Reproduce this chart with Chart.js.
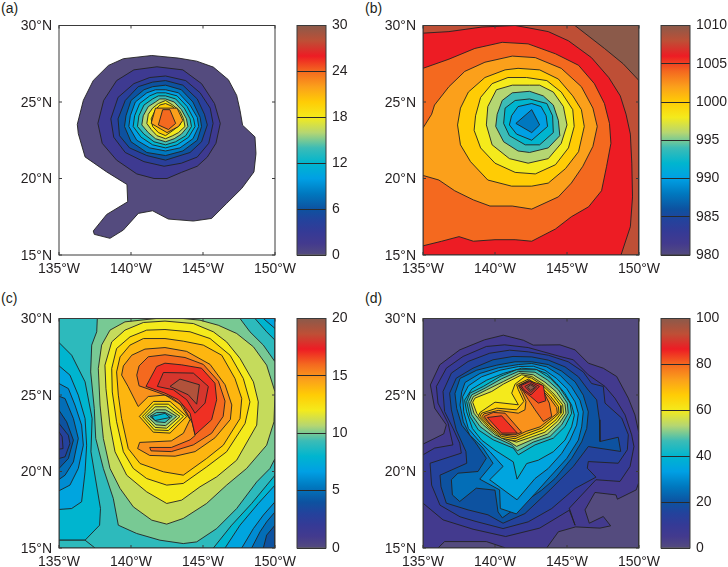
<!DOCTYPE html>
<html>
<head>
<meta charset="utf-8">
<script src="https://cdn.jsdelivr.net/npm/chart.js"></script>
<style>
  html, body { margin: 0; padding: 0; background: #fff; }
  #page { position: relative; width: 728px; height: 567px; overflow: hidden; }
  canvas { position: absolute; }
  .tag { position: absolute; font: 14px "Liberation Sans", sans-serif; color: #231f20; }
</style>
</head>
<body>
<div id="page">
  <span class="tag" style="left:1px;top:0px">(a)</span>
  <span class="tag" style="left:365px;top:0px">(b)</span>
  <span class="tag" style="left:1px;top:290px">(c)</span>
  <span class="tag" style="left:365px;top:290px">(d)</span>
</div>
<script>
// axes
const lonTicks = [135, 140, 145, 150];
const latTicks = [15, 20, 25, 30];
const barTicksA = [0, 6, 12, 18, 24, 30];
const barTicksB = [980, 985, 990, 995, 1000, 1005, 1010];
const barTicksC = [0, 5, 10, 15, 20];
const barTicksD = [0, 20, 40, 60, 80, 100];

// contour rings: flat lists of lon(W), lat, painted in order, one level per ring
const levelsA = [0, 2, 4, 6, 8, 10, 12, 14, 16, 18, 20, 22, 24];
const ringsA = [
  [141.44,28.04, 143.29,27.87, 144.56,27.67, 145.72,27.28, 146.76,26.46, 147.34,25.43, 147.57,24.46, 147.75,23.48, 148.61,22.72, 148.68,21.63, 148.54,20.43, 147.69,19.35, 146.64,18.37, 145.6,17.39, 144.33,17.22, 142.59,17.35, 141.5,17.89, 140.51,17.72, 139.47,16.63, 138.54,16.09, 137.45,16.35, 137.38,16.57, 138.31,17.65, 139.77,18.48, 139.72,19.61, 138.31,20.43, 136.81,21.41, 136.34,22.93, 136.27,23.54, 136.69,25.11, 137.38,26.41, 138.43,27.39, 139.47,27.83],
  [140.2,27.1, 141.8,27.3, 143.6,27.1, 144.9,26.2, 145.8,24.9, 146.2,23.6, 145.9,22.3, 145.3,21.4, 144.6,20.8, 143.5,20.4, 142.5,20.0, 141.6,20.0, 140.4,20.3, 139.0,21.2, 138.0,22.3, 137.7,23.6, 138.1,25.1, 139.0,26.4],
  [142.4,26.7, 143.8,26.4, 144.8,25.6, 145.5,24.6, 145.7,23.6, 145.4,22.3, 144.6,21.4, 143.5,21.0, 142.3,20.8, 140.9,21.1, 139.6,21.7, 138.8,22.7, 138.6,23.9, 139.1,25.3, 140.2,26.2, 141.3,26.6],
  [142.4,26.4, 143.6,26.1, 144.6,25.2, 145.1,24.2, 145.3,23.5, 144.9,22.4, 144.1,21.7, 142.4,21.2, 141.1,21.5, 139.9,22.0, 139.2,22.8, 139.1,23.9, 139.6,25.1, 140.5,26.0, 141.5,26.3],
  [142.4,26.1, 143.5,25.8, 144.3,25.0, 144.8,24.0, 144.9,23.4, 144.6,22.5, 143.6,21.8, 142.4,21.5, 141.1,21.7, 140.0,22.4, 139.55,23.4, 139.65,24.1, 140.0,25.1, 140.9,25.8, 141.5,26.0],
  [142.4,25.8, 143.3,25.6, 144.1,24.8, 144.6,24.0, 144.7,23.4, 144.3,22.6, 143.4,22.0, 142.4,21.8, 141.3,22.0, 140.4,22.5, 139.85,23.4, 139.95,24.1, 140.3,25.0, 141.1,25.6, 141.7,25.8],
  [142.4,25.6, 143.2,25.4, 143.9,24.7, 144.35,23.9, 144.45,23.4, 144.0,22.7, 143.2,22.2, 142.4,22.0, 141.5,22.2, 140.7,22.7, 140.15,23.4, 140.25,24.1, 140.6,24.9, 141.3,25.4, 141.8,25.6],
  [142.4,25.4, 143.1,25.2, 143.7,24.6, 144.1,23.9, 144.2,23.4, 143.8,22.8, 143.1,22.4, 142.4,22.2, 141.6,22.4, 140.9,22.9, 140.45,23.4, 140.55,24.1, 140.9,24.8, 141.5,25.2, 141.9,25.4],
  [142.4,25.2, 143.0,25.0, 143.5,24.5, 143.85,23.9, 143.95,23.4, 143.5,22.9, 143.0,22.6, 142.4,22.4, 141.7,22.6, 141.2,23.0, 140.75,23.5, 140.85,24.1, 141.2,24.7, 141.7,25.0, 142.0,25.2],
  [142.4,25.1, 142.9,24.8, 143.4,24.4, 143.65,23.9, 143.75,23.4, 143.3,23.0, 142.9,22.8, 142.4,22.6, 141.8,22.8, 141.4,23.2, 141.1,23.6, 141.2,24.2, 141.5,24.6, 141.9,24.9],
  [142.4,24.9, 142.9,24.7, 143.2,24.3, 143.5,23.8, 143.4,23.5, 143.0,23.2, 142.4,22.8, 141.9,23.0, 141.5,23.4, 141.4,23.9, 141.7,24.5, 142.0,24.8],
  [141.7,24.6, 143.2,24.6, 143.6,23.8, 143.3,23.4, 142.5,23.0, 141.4,23.6],
  [142.2,24.5, 142.7,24.5, 143.1,23.6, 142.6,23.2, 141.9,23.5]
];

const levelsB = [1008, 1010, 1006, 1004, 1002, 1000, 998, 996, 994, 992, 990, 988];
const ringsB = [
  [135,30, 150,30, 150,15, 135,15],
  [145.55,30, 147.6,28.5, 148.9,27.5, 150,26.4, 150,30],
  [135,29.5, 136.8,29.6, 139.1,29.9, 141.4,30, 142.3,29.85, 143.7,29.6, 145.1,29.0, 146.7,27.9, 147.9,26.6, 148.7,25.4, 149.1,24.2, 149.4,22.9, 149.5,21.0, 149.55,18.8, 149.4,16.85, 148.75,15, 135,15],
  [135,27.2, 136.8,27.8, 138.6,28.5, 140.5,28.9, 142.3,28.8, 144.2,28.15, 145.8,27.4, 146.9,26.2, 147.6,24.9, 147.95,23.6, 148.05,22.3, 147.75,20.8, 147.4,19.2, 146.5,18.15, 145.3,17.5, 144.2,16.7, 142.55,15.9, 141.4,16.0, 140,16, 138.5,15.9, 137.5,16.2, 136.3,15.9, 135,15.6],
  [135,23.3, 135.6,24.2, 135.8,24.8, 136.8,26, 137.9,27, 139.3,27.6, 141.2,28, 142.8,27.9, 144.6,27.2, 146,26, 146.8,24.6, 147.1,23.4, 146.8,22.1, 146.1,20.8, 145.3,19.7, 144.4,18.8, 142.55,18, 141.2,18.2, 139.65,18.2, 138.5,18.6, 137.2,19.2, 136.1,19.9, 135,20.2],
  [141.6,27.2, 140.7,27.1, 139.3,26.6, 138.15,25.65, 137.6,24.6, 137.4,23.5, 137.6,22.2, 138.3,21.1, 139.5,19.9, 141.15,19.5, 142.55,19.5, 143.7,19.7, 144.9,20.65, 145.8,21.75, 146.2,23.4, 146,24.5, 145.4,25.4, 144.4,26.5, 143.1,27.1],
  [142.2,26.6, 140.9,26.6, 139.8,26.2, 139,25.3, 138.65,24.1, 138.55,23.15, 139,22, 140,21, 141.4,20.4, 142.8,20.3, 144.2,20.9, 145.1,22, 145.5,23.4, 145.4,24.5, 144.6,25.65, 143.6,26.4],
  [142.4,26.1, 141.2,26.1, 140.1,25.8, 139.5,24.7, 139.4,23.5, 139.8,22.2, 141,21.3, 142.3,21, 143.7,21.3, 144.6,22.3, 145,23.5, 144.75,24.7, 144.05,25.65, 143.1,26.1],
  [142.4,25.7, 141.2,25.6, 140.5,25.1, 140.15,24.2, 140.05,23.4, 140.6,22.4, 141.6,21.8, 142.4,21.7, 143.7,22, 144.5,22.8, 144.4,23.8, 144.05,24.8, 143.35,25.4],
  [142.4,25.2, 141.4,25.1, 140.7,24.6, 140.6,23.6, 141,22.8, 142.1,22.2, 143.1,22.2, 144.05,23, 144,24.1, 143.6,24.9],
  [142.55,24.9, 141.6,24.7, 141.15,24.1, 141,23.5, 141.5,22.9, 142.55,22.5, 143.65,23.4, 143.55,24.1, 143.2,24.7],
  [142.55,24.5, 141.45,23.6, 142.55,23, 143.1,23.5]
];

const levelsC = [9, 8, 9, 7, 6, 5, 4, 3, 2, 8, 7, 6, 5, 4, 8, 7, 10, 11, 12, 13, 14, 15, 16, 17, 18, 19, 13, 12, 11, 10, 9, 8];
const ringsC = [
  [135,30, 150,30, 150,15, 135,15],
  [135,28.43, 135.88,27.6, 136.81,25.86, 137.3,23.46, 137.22,21.29, 137.88,17.58, 137.82,16.49, 136.81,15.51, 135,15.51],
  [135,15.51, 136.81,15.51, 137.5,15, 135,15],
  [135,26.91, 135.76,26.3, 136.34,24.99, 136.81,23.46, 136.92,21.72, 136.81,19.98, 136.57,18.02, 135.88,17.58, 135,17.52],
  [135,25.75, 135.65,25.42, 136.11,24.34, 136.57,23.03, 136.69,21.72, 136.34,20.2, 135.76,19.11, 135,18.74],
  [135,24.92, 135.42,24.77, 136,23.46, 136.34,22.16, 136,20.63, 135.42,19.76, 135,19.48],
  [135,24, 135.53,23.25, 136,22.05, 135.65,20.85, 135,20.2],
  [135,23.14, 135.65,22.37, 135.76,21.83, 135.42,20.96, 135,20.85],
  [135,22.59, 135.22,22.27, 135.28,21.5, 135,21.46],
  [145.72,15, 146.99,16.49, 148.38,17.91, 150,19.76, 150,15],
  [146.53,15, 147.57,16.49, 148.84,17.91, 150,19.11, 150,15],
  [147.69,15, 148.5,16.27, 149.19,17.15, 150,18.02, 150,15],
  [148.38,15, 148.96,16.06, 149.42,16.71, 150,17.36, 150,15],
  [149.19,15, 149.42,15.84, 150,16.49, 150,15],
  [148.61,30, 149.42,29.13, 150,28.58, 150,30],
  [149.19,30, 150,29.35, 150,30],
  [137.66,30, 137.62,29.13, 137.27,28.26, 137.2,26.51, 137.45,24.12, 137.55,22.16, 138.08,20.2, 138.77,18.24, 139.12,16.49, 140.39,15.95, 142.01,15.51, 143.63,15.29, 144.56,15.4, 145.95,16.27, 147.34,17.58, 148.73,19.32, 149.65,20.2, 150,20.85, 150,27.17, 149.19,28.26, 148.26,29.13, 147.57,30],
  [139.58,29.78, 138.54,29.24, 137.96,28.26, 137.73,26.73, 137.85,24.34, 138.08,22.16, 138.54,20.2, 139.24,18.89, 140.16,17.69, 141.44,16.82, 142.48,16.56, 143.63,16.93, 145.25,17.91, 146.64,19.11, 148.03,20.2, 149.42,21.72, 149.93,23.25, 150,25.2, 149.42,26.95, 148.5,28.15, 147.34,29.02, 146.06,29.56, 144.79,29.89, 143.63,30, 141.74,30],
  [142.36,29.83, 140.86,29.74, 139.58,29.24, 138.66,28.47, 138.19,26.95, 138.26,25.42, 138.54,23.03, 138.89,21.29, 139.7,19.76, 141.09,18.67, 142.48,17.91, 143.52,18.13, 144.79,19, 145.95,19.65, 147.34,20.74, 148.73,23.03, 148.84,24.55, 148.5,25.86, 147.57,27.39, 146.64,28.47, 145.72,29.13, 144.33,29.67],
  [142.36,29.28, 141.09,29.24, 139.93,28.8, 139,28.04, 138.66,26.73, 138.7,25.2, 139,23.25, 139.47,21.29, 140.16,20.2, 141.09,19.54, 142.48,19.11, 143.63,19.22, 145.25,20.3, 146.64,21.29, 147.92,23.14, 148.26,24.55, 147.8,26.08, 146.88,27.6, 145.49,28.69, 144.1,29.13],
  [142.36,28.69, 140.86,28.69, 139.93,28.26, 139.24,27.49, 139,26.51, 139.12,24.99, 139.35,23.46, 139.81,21.5, 140.63,20.52, 142.25,19.98, 143.63,19.76, 145.25,20.85, 146.41,21.72, 147.57,23.46, 147.69,24.77, 147.22,26.08, 146.3,27.6, 145.02,28.26, 143.63,28.52],
  [142.36,28.1, 140.97,28.0, 140.05,27.6, 139.47,26.9, 139.35,26.3, 139.8,25.55, 140.5,24.25, 141.2,24.9, 142.36,25, 143.4,24.4, 144.1,23.4, 143.64,22.5, 142.8,22, 140.6,21.9, 140.46,21.5, 141.3,21.05, 143.06,21, 144.45,21.3, 145.83,22.2, 146.9,23.4, 147.0,24.35, 146.53,25.67, 145.49,27, 143.87,27.85],
  [142.36,27.63, 141.2,27.5, 140.56,26.9, 140.4,26.3, 140.56,25.6, 141.78,25.2, 142.8,24.84, 143.64,24.25, 144.26,23.16, 144.45,22.35, 144.1,22.07, 142.8,21.57, 141.3,21.57, 141.39,21.35, 142.8,21.3, 144.33,21.74, 145.6,22.5, 146.4,23.6, 146.53,24.6, 146.07,25.9, 145.02,27, 143.75,27.45],
  [142.36,27.08, 141.78,26.86, 141.04,25.56, 142.36,25.12, 143.29,24.69, 144.1,23.81, 144.45,22.4, 145.6,23.38, 145.95,24.69, 145.83,25.77, 144.9,26.75, 143.52,26.97],
  [142.25,26.47, 141.83,25.56, 142.94,25.34, 143.87,24.69, 144.45,23.81, 145.14,24.47, 145.37,25.56, 144.33,26.43],
  [143.4,26.04, 142.71,25.56, 143.98,25.01, 144.56,24.4, 144.75,25.67],
  [140.58,23.6, 141.55,24.58, 142.71,24.58, 143.87,23.6, 142.71,22.51, 141.55,22.57],
  [140.79,23.6, 141.62,24.4, 142.59,24.4, 143.64,23.6, 142.59,22.68, 141.62,22.72],
  [140.97,23.6, 141.67,24.23, 142.48,24.23, 143.4,23.6, 142.48,22.83, 141.67,22.88],
  [141.14,23.6, 141.74,24.03, 142.41,24.03, 143.17,23.6, 142.41,23.0, 141.74,23.05],
  [141.32,23.6, 141.78,23.86, 142.36,23.86, 142.87,23.6, 142.36,23.2, 141.78,23.25],
  [141.44,23.6, 142.36,23.8, 142.71,23.53, 141.67,23.33]
];

const levelsD = [0, 5, 10, 15, 20, 25, 30, 35, 40, 45, 50, 55, 60, 65, 70, 75, 80, 80, 85, 85, 90, 95, 100];
const ringsD = [
  [135,30, 150,30, 150,15, 135,15],
  [140.58,28.91, 141.97,28.58, 142.66,28.26, 144.51,28.28, 145.56,27.95, 146.48,27.08, 147.52,26.75, 148.45,26.21, 149.26,24.79, 149.72,23.7, 150,22.48, 150,19.32, 149.81,18.8, 148.5,18.19, 148.4,18.47, 146.94,18.63, 146.25,17.49, 146.55,16.62, 147.52,17.06, 148.03,16.45, 147.29,16.3, 145.6,16.38, 144.4,16.06, 143.59,15, 140.74,15, 139.4,15.42, 136.5,15.42, 136.04,15, 135,15, 135,21.79, 136.44,22.46, 136.62,23.05, 135.81,24.14, 135.51,25.66, 136.16,26.97, 137.55,27.95, 139.28,28.61],
  [140.67,28.28, 142.31,28.1, 144.51,27.52, 145.44,27.3, 146.48,26.32, 147.64,25.56, 148.33,24.79, 149.03,23.7, 149.49,22.4, 149.65,21.63, 149.38,20.33, 148.68,19.35, 147.01,19.46, 145.16,17.6, 145.56,16.49, 145.16,17.47, 143.1,16.3, 140.74,15.75, 138.47,16.23, 136.39,16.84, 135,17.93, 135,21.09, 135.81,21.53, 137.08,21.74, 136.74,23.16, 136.04,24.47, 135.93,25.56, 136.62,26.75, 137.78,27.52, 139.4,28.17],
  [141.02,27.93, 142.31,27.82, 143.7,27.6, 145.09,27.17, 146.13,26.51, 146.71,25.75, 147.52,25.56, 147.64,24.47, 148.8,23.49, 149.26,22.4, 149.19,21.42, 148.56,20.54, 146.48,20.65, 146.41,20.22, 147.01,19.63, 145.56,18.89, 143.94,17.58, 142.31,16.71, 140.56,16.27, 138.61,16.75, 137.57,17.04, 136.18,17.8, 135.6,19.11, 135.49,20.54, 137.66,21.2, 137.55,21.85, 137.08,22.83, 136.5,23.92, 136.39,25.23, 136.97,26.43, 138.13,27.19, 139.63,27.73],
  [141.25,27.52, 142.55,27.49, 143.7,27.28, 144.86,26.84, 145.79,26.19, 146.48,25.32, 147.06,24.68, 147.25,23.38, 147.29,21.96, 148.56,22.24, 148.73,21.31, 146.48,21.63, 145.44,20.33, 143.82,18.8, 142.08,17.25, 140.56,16.62, 139.51,17.17, 138.13,17.49, 136.62,17.93, 136.25,19, 136.18,19.76, 138.04,20.54, 137.98,21.31, 137.31,22.72, 136.97,24.03, 136.85,25.12, 137.31,26.1, 138.47,26.75, 139.86,27.3],
  [141.39,27.17, 142.55,27.17, 143.7,26.99, 144.63,26.56, 145.56,25.86, 146.13,24.99, 146.48,23.9, 146.37,22.81, 146.02,21.94, 145.32,20.85, 144.17,19.54, 143.24,18.78, 142.08,18.02, 140.51,16.97, 140.21,17.36, 140,18.78, 138.7,18.91, 137.55,18.04, 137.04,18.47, 136.97,19.46, 137.43,19.89, 138.82,20, 139.4,20.87, 138.61,21.94, 137.69,23.03, 137.34,24.12, 137.22,25.1, 137.57,26.08, 138.73,26.62, 140.12,26.95],
  [141.62,26.99, 142.55,27.06, 143.59,26.84, 144.51,26.3, 145.32,25.53, 145.9,24.66, 146.13,23.9, 146.02,22.92, 145.79,22.05, 144.98,20.85, 143.82,19.65, 142.78,18.56, 141.48,17.23, 140.37,17.58, 140.32,18.8, 138.94,19.5, 139.86,20.54, 139.17,21.53, 138.26,22.37, 137.8,23.25, 137.57,24.34, 137.69,25.21, 137.92,25.82, 138.96,26.41, 140.23,26.78],
  [141.62,26.86, 142.66,26.88, 143.47,26.62, 144.28,26.08, 144.98,25.42, 145.56,24.55, 145.79,23.79, 145.67,23.03, 145.21,22.05, 144.63,21.18, 143.7,20.2, 142.78,19.54, 141.53,18.15, 139.63,19.46, 140.56,20.33, 139.65,21.29, 138.84,22.05, 138.15,22.81, 137.83,23.9, 137.75,24.88, 138.15,25.6, 139.07,26.19, 140.35,26.62],
  [141.85,26.75, 142.78,26.69, 143.59,26.41, 144.28,25.75, 144.86,25.1, 145.32,24.34, 145.51,23.68, 145.32,22.92, 144.86,22.05, 144.05,21.29, 143.01,20.74, 142.2,20.52, 141.53,19.5, 141.27,20.63, 140,21.39, 139.07,22.05, 138.43,22.81, 138.03,23.9, 137.89,24.66, 138.38,25.38, 139.42,25.97, 140.58,26.41],
  [141.5,26.65, 142.9,26.65, 143.82,26.1, 144.51,25.45, 145.21,24.47, 145.32,23.81, 144.86,22.94, 144.05,22.18, 142.78,21.74, 141.62,21.09, 141.27,21.53, 139.88,22.07, 138.84,22.72, 138.26,23.6, 138.03,24.58, 138.26,25.12, 139.19,25.56, 140.35,26.21],
  [141.62,26.54, 142.78,26.49, 143.63,25.99, 144.4,25.34, 145.02,24.47, 145.09,23.81, 144.63,23.05, 143.82,22.29, 142.66,21.92, 141.55,21.35, 141.16,21.74, 139.88,22.29, 138.96,22.94, 138.38,23.71, 138.17,24.58, 138.38,25.01, 139.31,25.45, 140.46,26.06],
  [141.74,26.43, 142.66,26.32, 143.47,25.84, 144.24,25.23, 144.86,24.4, 144.93,23.81, 144.47,23.16, 143.63,22.44, 142.55,22.07, 141.5,21.64, 141.04,21.92, 140,22.4, 139.14,23.09, 138.54,23.81, 138.31,24.53, 138.5,24.9, 139.42,25.34, 140.58,25.88],
  [141.85,26.32, 142.55,26.21, 143.36,25.71, 144.1,25.06, 144.7,24.36, 144.75,23.81, 144.33,23.27, 143.47,22.57, 142.43,22.22, 141.5,21.92, 140.81,22.11, 140,22.57, 139.24,23.23, 138.73,23.81, 138.45,24.53, 138.61,24.8, 139.77,25.23, 140.58,25.71],
  [142.08,26.21, 142.55,26.1, 143.31,25.62, 144,25.01, 144.56,24.31, 144.58,23.81, 144.24,23.38, 143.36,22.72, 142.32,22.35, 141.39,22, 140.46,22.18, 139.54,22.88, 138.84,23.6, 138.96,23.86, 140,24.53, 141.62,24.36, 141.16,25.12, 141.39,25.71],
  [142.32,26.04, 143.24,25.49, 143.87,24.9, 144.4,24.25, 144.45,23.81, 144.1,23.49, 143.24,22.83, 142.2,22.48, 141.39,22.14, 140.46,22.29, 139.61,22.94, 138.96,23.6, 139.07,23.81, 140.12,24.14, 141.5,24.03, 142,24.58, 141.62,25.34, 141.5,25.67],
  [142.32,25.93, 143.2,25.4, 143.77,24.84, 144.28,24.18, 144.33,23.81, 143.96,23.53, 143.13,22.92, 142.15,22.62, 141.39,22.27, 140.46,22.4, 139.65,23.05, 139.1,23.6, 139.24,23.77, 140.23,23.99, 141.62,23.81, 142.08,24.03, 142.15,24.58, 141.85,25.23, 141.62,25.62],
  [141.69,25.62, 142.32,25.93, 143.24,25.45, 143.77,24.47, 143.94,23.6, 143.36,23.27, 142.78,24.03, 142.32,24.69, 141.97,25.23],
  [139.24,23.6, 139.88,23.86, 140.7,23.81, 141.85,22.57, 141.39,22.4, 140.39,22.44, 139.7,23.05],
  [139.47,23.53, 140.46,23.64, 141.55,22.51, 140.46,22.51],
  [141.69,25.62, 142.38,25.93, 143.36,25.62, 143.52,24.62, 143.01,24.47, 142.48,24.9, 141.97,25.27],
  [141.81,25.62, 142.43,25.88, 143.08,25.56, 142.5,25.01, 142.01,25.34],
  [142.08,25.56, 142.48,25.75, 142.89,25.53, 142.48,25.16],
  [142.25,25.51, 142.48,25.67, 142.76,25.49, 142.48,25.3]
];

// colour map used by the fills and the colour bars
const cmapPos = [0, 0.05, 0.1, 0.15, 0.2, 0.267, 0.333, 0.4, 0.467, 0.533, 0.6, 0.667, 0.733, 0.8, 0.867, 0.933, 1];
const cmapHex = ['#544b7e', '#433a8e', '#353a96', '#24429c', '#0d52a0', '#0078bf', '#00a0e4', '#00b5cf', '#3cbcb6', '#b5d672', '#f4ea1c', '#ffcc05', '#fba01b', '#f4691f', '#ed1c24', '#be4f36', '#8b5a4a'];

function cmap(t) {
  t = Math.min(1, Math.max(0, t));
  let i = 0;
  while (i < cmapPos.length - 2 && t > cmapPos[i + 1]) i++;
  const f = (t - cmapPos[i]) / (cmapPos[i + 1] - cmapPos[i]);
  const a = parseInt(cmapHex[i].slice(1), 16), b = parseInt(cmapHex[i + 1].slice(1), 16);
  const mix = s => Math.round(((a >> s) & 255) * (1 - f) + ((b >> s) & 255) * f);
  return `rgb(${mix(16)},${mix(8)},${mix(0)})`;
}

const FONT = { family: '"Liberation Sans", sans-serif', size: 14 };
const INK = '#231f20';

// box round the plot, with short ticks pointing in on all four sides
const boxPlugin = {
  id: 'box',
  afterDraw(chart, args, opts) {
    const { ctx, chartArea: a, scales } = chart;
    ctx.save();
    ctx.strokeStyle = '#3a3a3a';
    ctx.lineWidth = 1;
    ctx.strokeRect(a.left, a.top, a.right - a.left, a.bottom - a.top);
    if (opts.ticks) {
      ctx.beginPath();
      lonTicks.forEach(v => {
        const x = scales.x.getPixelForValue(v);
        ctx.moveTo(x, a.top); ctx.lineTo(x, a.top + 3);
        ctx.moveTo(x, a.bottom); ctx.lineTo(x, a.bottom - 3);
      });
      latTicks.forEach(v => {
        const y = scales.y.getPixelForValue(v);
        ctx.moveTo(a.left, y); ctx.lineTo(a.left + 3, y);
        ctx.moveTo(a.right, y); ctx.lineTo(a.right - 3, y);
      });
      ctx.stroke();
    }
    ctx.restore();
  }
};

function addCanvas(left, top, w, h) {
  const c = document.createElement('canvas');
  c.width = w; c.height = h;
  c.style.left = left + 'px'; c.style.top = top + 'px';
  c.style.width = w + 'px'; c.style.height = h + 'px';
  document.getElementById('page').appendChild(c);
  return c;
}

// one filled contour map
function drawMap(left, top, levels, rings, lo, hi) {
  const datasets = rings.map((ring, i) => {
    const data = [];
    for (let k = 0; k < ring.length; k += 2) data.push({ x: ring[k], y: ring[k + 1] });
    data.push(data[0]);
    return {
      data,
      showLine: true,
      fill: 'shape',
      order: rings.length - i,
      backgroundColor: cmap((levels[i] - lo) / (hi - lo)),
      borderColor: '#222222',
      borderWidth: 0.9,
      pointRadius: 0,
      tension: 0
    };
  });
  new Chart(addCanvas(left, top, 330, 290), {
    type: 'scatter',
    data: { datasets },
    plugins: [boxPlugin],
    options: {
      responsive: false,
      devicePixelRatio: 1,
      animation: false,
      events: [],
      layout: { padding: { top: 25.5, right: 55, bottom: 0, left: 0 } },
      plugins: { legend: { display: false }, tooltip: { enabled: false }, box: { ticks: true } },
      scales: {
        x: {
          type: 'linear', min: 135, max: 150,
          grid: { display: false, drawTicks: false }, border: { display: false },
          afterBuildTicks: s => { s.ticks = lonTicks.map(value => ({ value })); },
          afterFit: s => { s.height = 35; s.paddingLeft = 0; s.paddingRight = 0; },
          ticks: { callback: v => v + '°W', font: FONT, color: INK, maxRotation: 0, autoSkip: false, padding: 6 }
        },
        y: {
          type: 'linear', min: 15, max: 30,
          grid: { display: false, drawTicks: false }, border: { display: false },
          afterBuildTicks: s => { s.ticks = latTicks.map(value => ({ value })); },
          afterFit: s => { s.width = 59; s.paddingTop = 0; s.paddingBottom = 0; },
          ticks: { callback: v => v + '°N', font: FONT, color: INK, autoSkip: false, padding: 7, labelOffset: 1 }
        }
      }
    }
  });
}

// colour bar next to a map: one floating bar with the colour map as a gradient
function drawBar(left, top, ticks) {
  const lo = ticks[0], hi = ticks[ticks.length - 1];
  new Chart(addCanvas(left, top, 98, 290), {
    type: 'bar',
    data: {
      labels: [''],
      datasets: [{
        data: [[lo, hi]],
        barPercentage: 1,
        categoryPercentage: 1,
        backgroundColor: ctx => {
          const a = ctx.chart.chartArea;
          if (!a) return cmapHex[0];
          const g = ctx.chart.ctx.createLinearGradient(0, a.bottom, 0, a.top);
          cmapPos.forEach((p, i) => g.addColorStop(p, cmapHex[i]));
          return g;
        }
      }]
    },
    plugins: [boxPlugin],
    options: {
      responsive: false,
      devicePixelRatio: 1,
      animation: false,
      events: [],
      layout: { padding: { top: 25.5, right: 0, bottom: 35, left: 31 } },
      plugins: { legend: { display: false }, tooltip: { enabled: false }, box: { ticks: false } },
      scales: {
        x: { display: false },
        y: {
          position: 'right', min: lo, max: hi,
          grid: { color: '#2a2a2a', lineWidth: 1, drawTicks: false, z: 1 }, border: { display: false },
          afterBuildTicks: s => { s.ticks = ticks.map(value => ({ value })); },
          afterFit: s => { s.width = 38; s.paddingTop = 0; s.paddingBottom = 0; },
          ticks: { callback: v => String(v), font: FONT, color: INK, autoSkip: false, padding: 6 }
        }
      }
    }
  });
}

drawMap(0, 0, levelsA, ringsA, 0, 30);
drawMap(364, 0, levelsB, ringsB, 980, 1010);
drawMap(0, 293, levelsC, ringsC, 0, 20);
drawMap(364, 293, levelsD, ringsD, 0, 100);
drawBar(266, 0, barTicksA);
drawBar(630, 0, barTicksB);
drawBar(266, 293, barTicksC);
drawBar(630, 293, barTicksD);
</script>
</body>
</html>
